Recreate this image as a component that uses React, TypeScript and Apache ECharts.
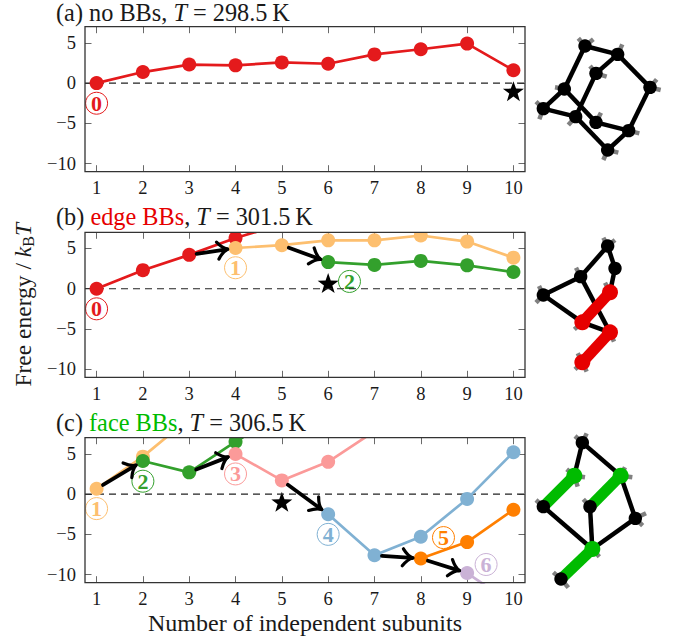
import React, { useEffect, useRef } from "react";
import * as echarts from "echarts";

const FONT = "'Liberation Serif', 'Times New Roman', serif";
const subunits = [1, 2, 3, 4, 5, 6, 7, 8, 9, 10];
const xTicks = [1, 2, 3, 4, 5, 6, 7, 8, 9, 10];
const yTicks = [-10, -5, 0, 5];

const RED = "#e41a1c", LORANGE = "#fdbf6f", GREEN = "#33a02c", PINK = "#fb9a99",
  BLUE = "#80b1d3", ORANGE = "#ff7f00", PURPLE = "#cab2d6";

// value per subunit count; null = not present
const aRed = [0, 1.37, 2.3, 2.2, 2.57, 2.4, 3.56, 4.2, 4.9, 1.6];
const bRed = [0, 2.3, 4.2, 6.3, 8, null, null, null, null, null];
const bLightOrange = [null, null, null, 5.05, 5.4, 6, 6, 6.6, 5.85, 3.85];
const bGreen = [null, null, null, null, null, 3.3, 2.95, 3.45, 2.9, 2.07];
const cLightOrange = [0.66, 4.65, 9.4, null, null, null, null, null, null, null];
const cGreen = [null, 4.1, 2.7, 6.5, 10, null, null, null, null, null];
const cPink = [null, null, null, 4.97, 1.7, 4, 7.8, null, null, null];
const cBlue = [null, null, null, null, null, -2.5, -7.6, -5.3, -0.6, 5.2];
const cOrange = [null, null, null, null, null, null, null, -8, -5.96, -1.95];
const cPurple = [null, null, null, null, null, null, null, null, -9.8, -13.7];

const panelSeries: [string, (number | null)[]][][] = [
  [[RED, aRed]],
  [[RED, bRed], [LORANGE, bLightOrange], [GREEN, bGreen]],
  [[LORANGE, cLightOrange], [GREEN, cGreen], [PINK, cPink], [BLUE, cBlue], [ORANGE, cOrange], [PURPLE, cPurple]],
];

const stars: number[][][] = [[[10, -1]], [[6, 0.7]], [[5, -0.95]]];
const badges: [number, number, number, string, string][] = [
  [0, 1, -2.5, "0", RED],
  [1, 1, -2.5, "0", RED],
  [1, 4, 2.6, "1", LORANGE],
  [1, 6.46, 0.9, "2", GREEN],
  [2, 1, -1.8, "1", LORANGE],
  [2, 2, 1.6, "2", GREEN],
  [2, 4, 2.5, "3", PINK],
  [2, 6, -5, "4", BLUE],
  [2, 8.49, -5.4, "5", ORANGE],
  [2, 9.41, -8.74, "6", PURPLE],
];
const arrows: [number, number, number, number, number][] = [
  [1, 3, 4.2, 4, 5.05],
  [1, 5, 5.4, 6, 3.3],
  [2, 1, 0.66, 2, 4.1],
  [2, 3, 2.7, 4, 4.97],
  [2, 5, 1.7, 6, -2.5],
  [2, 7, -7.6, 8, -8],
  [2, 8, -8, 9, -9.8],
];

const tops = [26.7, 232.3, 437.7];
const titleTops = [1.8, 205.6, 411];
const LEFT = 85, W = 440, H = 145;
const titles = [
  "(a) no BBs, {i|T} = 298.5\u2009K",
  "(b) {r|edge BBs}, {i|T} = 301.5\u2009K",
  "(c) {g|face BBs}, {i|T} = 306.5\u2009K",
];
const STAR = "path://M0,-10 L2.35,-3.24 L9.51,-3.09 L3.8,1.24 L5.88,8.09 L0,4 L-5.88,8.09 L-3.8,1.24 L-9.51,-3.09 L-2.35,-3.24 Z";
const TITLE_SIZE = 24.3;
const LABEL_SIZE = 24;

type P = [number, number];
// molecule illustrations (pixel drawings, zoomed-crop coordinates)
const molA = {
  ox: 340, oy: 0,
  atoms: [[735,138],[833,163],[768,220],[930,262],[673,267],[610,326],[707,350],[768,367],[866,392],[803,450]] as P[],
  bonds: [[0,1],[0,4],[1,2],[1,3],[2,6],[3,8],[4,5],[4,7],[5,6],[6,9],[7,8],[8,9]],
  thick: [] as number[][],
  colored: [] as number[],
  hs: [[0,715,115],[0,760,118],[1,847,133],[2,750,198],[2,800,230],[3,950,238],[3,962,270],[4,645,262],[5,588,305],[5,598,358],[6,685,375],[7,783,338],[8,898,400],[9,790,480],[9,835,458]],
  color: "#000",
};
const molB = {
  ox: 340, oy: 205,
  atoms: [[803,123],[825,190],[722,215],[610,270],[810,262],[727,352],[810,382],[727,472]] as P[],
  bonds: [[0,1],[0,2],[1,4],[2,3],[2,6],[3,5],[5,6]],
  thick: [[4,5],[6,7]],
  colored: [4,5,6,7],
  hs: [[0,790,98],[0,825,105],[2,708,188],[3,597,243],[3,588,293],[4,795,233],[5,703,373],[6,822,410],[7,713,445],[7,705,493],[7,740,500]],
  color: "#e60000",
};
const molC = {
  ox: 340, oy: 410,
  atoms: [[727,98],[610,290],[750,290],[886,325],[663,507],[703,197],[842,197],[757,417]] as P[],
  bonds: [[0,5],[0,6],[6,3],[1,7],[2,7],[3,7]],
  thick: [[5,1],[6,2],[7,4]],
  colored: [5,6,7],
  hs: [[0,705,78],[0,740,70],[5,680,178],[5,735,202],[5,713,230],[6,855,172],[6,877,202],[2,730,268],[3,918,310],[3,908,347],[1,588,270],[7,778,440],[4,640,487],[4,685,533]],
  color: "#00bb00",
};

function molecule(m: typeof molA) {
  const px = (p: number[]) => [m.ox + p[0] / 3, m.oy + p[1] / 3];
  const out: any[] = [];
  const line = (a: number[], b: number[], stroke: string, lineWidth: number, z: number) =>
    out.push({ type: "line", z, silent: true, shape: { x1: a[0], y1: a[1], x2: b[0], y2: b[1] }, style: { stroke, lineWidth, lineCap: "butt" } });
  m.hs.forEach(([i, x, y]) => line(px(m.atoms[i]), px([x, y]), "#808080", 4.5, 5));
  m.bonds.forEach(([a, b]) => line(px(m.atoms[a]), px(m.atoms[b]), "#000", 4.5, 6));
  m.thick.forEach(([a, b]) => line(px(m.atoms[a]), px(m.atoms[b]), m.color, 11, 7));
  m.atoms.forEach((a, i) => {
    const c = px(a);
    const col = m.colored.includes(i);
    out.push({ type: "circle", z: 8, silent: true, shape: { cx: c[0], cy: c[1], r: col ? 8 : 6.7 }, style: { fill: col ? m.color : "#000" } });
  });
  return out;
}

export default function App() {
  const ref = useRef<HTMLDivElement>(null);
  useEffect(() => {
    const chart = echarts.init(ref.current!, undefined, { renderer: "svg" });
    const tickStyle = { show: true, inside: true, length: 6.5, lineStyle: { color: "#6a6a6a", width: 1 } };
    const grid = tops.map((top) => ({ left: LEFT, top, width: W, height: H }));
    const xAxis: any[] = [];
    const yAxis: any[] = [];
    tops.forEach((_, i) => {
      const last = i === 2;
      xAxis.push({
        type: "value", gridIndex: i, min: 0.75, max: 10.25, position: "bottom",
        splitLine: { show: false }, axisLine: { show: false, onZero: false },
        axisTick: { ...tickStyle, customValues: xTicks },
        axisLabel: { customValues: xTicks, fontFamily: FONT, fontSize: 18.5, color: "#1a1a1a", margin: 7, formatter: (v: number) => String(v) },
        ...(last ? { name: "Number of independent subunits", nameLocation: "middle", nameGap: 28, nameTextStyle: { fontFamily: FONT, fontSize: LABEL_SIZE, color: "#1a1a1a" } } : {}),
      });
      xAxis.push({
        type: "value", gridIndex: i, min: 0.75, max: 10.25, position: "top",
        splitLine: { show: false }, axisLine: { show: false, onZero: false },
        axisTick: { ...tickStyle, customValues: xTicks }, axisLabel: { show: false },
      });
      yAxis.push({
        type: "value", gridIndex: i, min: -11, max: 7, position: "left",
        splitLine: { show: false }, axisLine: { show: false, onZero: false },
        axisTick: { ...tickStyle, customValues: yTicks },
        axisLabel: { customValues: yTicks, fontFamily: FONT, fontSize: 18.5, color: "#1a1a1a", margin: 9, formatter: (v: number) => String(v).replace("-", "\u2212") },
        ...(i === 1 ? {
          name: "Free energy / {i|k}{s|B}{i|T}", nameLocation: "middle", nameGap: 47,
          nameTextStyle: {
            fontFamily: FONT, fontSize: 23.5, color: "#1a1a1a", lineHeight: 26,
            rich: {
              i: { fontFamily: FONT, fontSize: 23.5, fontStyle: "italic", color: "#1a1a1a", lineHeight: 26 },
              s: { fontFamily: FONT, fontSize: 16, color: "#1a1a1a", verticalAlign: "bottom", lineHeight: 16 },
            },
          },
        } : {}),
      });
      yAxis.push({
        type: "value", gridIndex: i, min: -11, max: 7, position: "right",
        splitLine: { show: false }, axisLine: { show: false, onZero: false },
        axisTick: { ...tickStyle, customValues: yTicks }, axisLabel: { show: false },
      });
    });

    const series: any[] = [];
    panelSeries.forEach((list, i) => {
      const ax = { xAxisIndex: i * 2, yAxisIndex: i * 2 };
      series.push({
        type: "line", ...ax, silent: true, symbol: "none", data: [[0.75, 0], [10.25, 0]],
        lineStyle: { color: "#222", width: 1.1, type: [7, 5] },
      });
      list.forEach(([color, ys]) => {
        series.push({
          type: "line", ...ax, silent: true, symbol: "circle", symbolSize: 14, clip: true,
          data: subunits.map((x, k) => [x, ys[k]]).filter((d) => d[1] !== null),
          itemStyle: { color }, lineStyle: { color, width: 2.7 },
        });
      });
      series.push({
        type: "scatter", ...ax, silent: true, symbol: STAR, symbolSize: 21, symbolKeepAspect: true,
        data: stars[i], itemStyle: { color: "#000", opacity: 1 },
      });
    });
    badges.forEach(([p, x, y, digit, color]) => {
      series.push({
        type: "scatter", xAxisIndex: p * 2, yAxisIndex: p * 2, silent: true, symbol: "circle", symbolSize: 22,
        data: [[x, y]], itemStyle: { color: "#fff", borderColor: color, borderWidth: 1, opacity: 1 },
        label: { show: true, position: "inside", formatter: digit, fontFamily: FONT, fontWeight: "bold", fontSize: 22, color },
      });
    });

    const title = titleTops.map((top, i) => ({
      text: titles[i], left: 56, top, padding: 0, z: 12,
      textStyle: {
        fontFamily: FONT, fontSize: TITLE_SIZE, lineHeight: 22, fontWeight: "normal", color: "#1a1a1a",
        rich: {
          i: { fontFamily: FONT, fontSize: TITLE_SIZE, lineHeight: 22, fontStyle: "italic", color: "#1a1a1a" },
          r: { fontFamily: FONT, fontSize: TITLE_SIZE, lineHeight: 22, color: "#e60000" },
          g: { fontFamily: FONT, fontSize: TITLE_SIZE, lineHeight: 22, color: "#00bb00" },
        },
      },
    }));

    chart.setOption({ animation: false, backgroundColor: "#fff", title, grid, xAxis, yAxis, series });

    // overlays derived from the chart's own scales
    const elements: any[] = [];
    tops.forEach((top) => {
      elements.push({ type: "rect", z: 9, silent: true, shape: { x: LEFT - 1, y: top - 6.5, width: W + 2, height: 6.5 }, style: { fill: "#fff" } });
      elements.push({ type: "rect", z: 10, silent: true, shape: { x: LEFT, y: top, width: W, height: H }, style: { fill: "none", stroke: "#333", lineWidth: 1.3 } });
    });
    arrows.forEach(([p, x1, y1, x2, y2]) => {
      const a = chart.convertToPixel({ gridIndex: p } as any, [x1, y1]) as number[];
      const b = chart.convertToPixel({ gridIndex: p } as any, [x2, y2]) as number[];
      const dx = b[0] - a[0], dy = b[1] - a[1];
      const len = Math.hypot(dx, dy);
      const ux = dx / len, uy = dy / len;
      const s = [a[0] + ux * 7.5, a[1] + uy * 7.5];
      const t = [b[0] - ux * 8, b[1] - uy * 8];
      const common = { z: 8, silent: true };
      const st = { stroke: "#000", fill: "none", lineWidth: 3.8, lineCap: "round" };
      elements.push({ type: "line", ...common, shape: { x1: s[0], y1: s[1], x2: t[0] - ux * 1, y2: t[1] - uy * 1 }, style: st });
      [1, -1].forEach((side) => {
        const nx = -uy * side, ny = ux * side;
        elements.push({
          type: "bezierCurve", ...common,
          shape: {
            x1: t[0], y1: t[1],
            x2: t[0] - ux * 10 + nx * 8.5, y2: t[1] - uy * 10 + ny * 8.5,
            cpx1: t[0] - ux * 5 + nx * 1.5, cpy1: t[1] - uy * 5 + ny * 1.5,
          },
          style: { ...st, lineWidth: 3.2 },
        });
      });
    });
    [molA, molB, molC].forEach((m) => elements.push(...molecule(m as any)));
    chart.setOption({ graphic: { elements } });
    return () => chart.dispose();
  }, []);
  return <div ref={ref} style={{ position: "absolute", left: 0, top: 0, width: 681, height: 641 }} />;
}
